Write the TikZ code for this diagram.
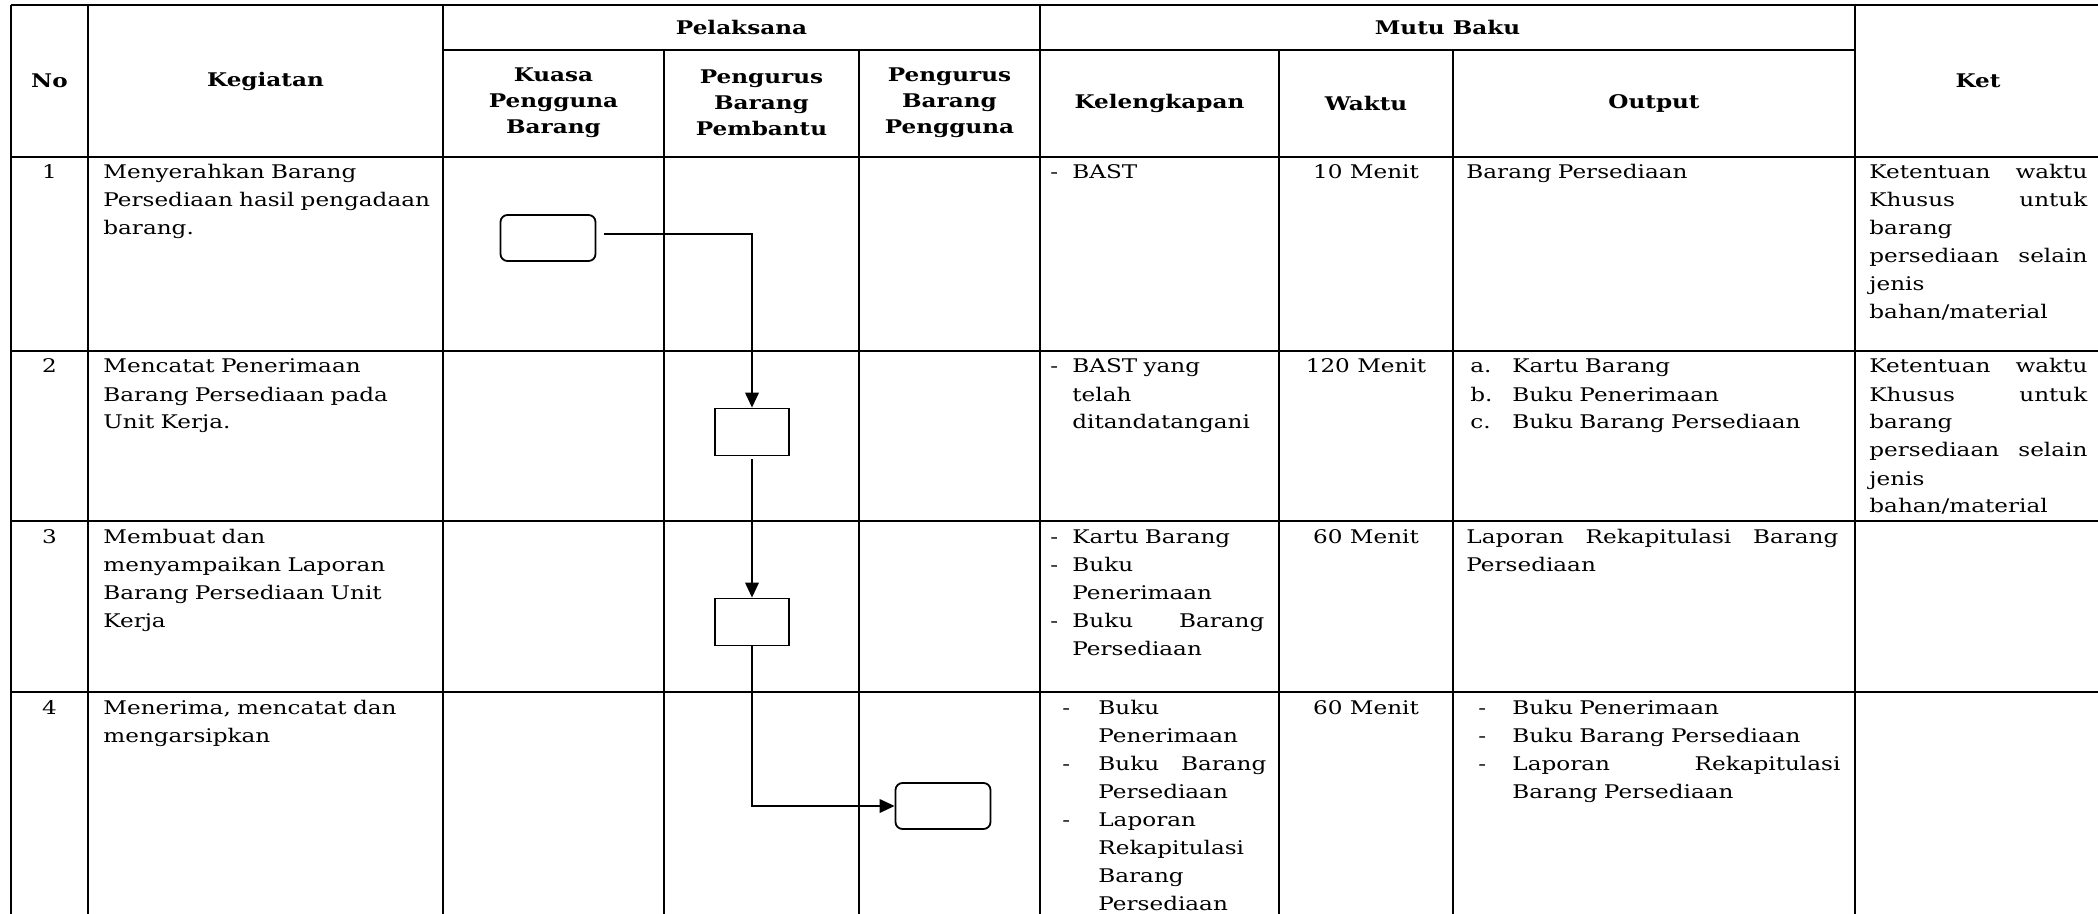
\documentclass[tikz,border=0pt]{standalone}
\usepackage{fontspec}
\setmainfont{DejaVu Serif}[FakeStretch=1.23]
\usetikzlibrary{arrows.meta,positioning}
\setlength{\parindent}{0pt}
\newcommand{\leadmark}[2]{\makebox[#1][l]{#2}}

\begin{document}
\begin{tikzpicture}[
    x=0.5pt, y=-0.5pt,
    >={Triangle[length=7.5pt,width=6.8pt]},
    body/.style={inner sep=0pt, font=\fontsize{9.4}{14}\selectfont},
    cell/.style={body, anchor=north west, align=left},
    mid/.style={body, anchor=north, align=center},
    head/.style={inner sep=0pt, align=center, font=\fontsize{9.4}{13}\selectfont\bfseries},
    vline/.style={line width=0.75pt},
    hline/.style={line width=1.1pt},
    term/.style={draw, line width=0.9pt, rounded corners=3.5pt,
                 minimum width=47.5pt, minimum height=23pt},
    proc/.style={draw, line width=0.9pt,
                 minimum width=37pt, minimum height=23.5pt},
    flow/.style={->, line width=0.85pt}
  ]

  \path[use as bounding box, fill=white] (0,0) rectangle (2098,914);

  %% Table grid
  \draw[hline] (11,5)    -- (2098,5);
  \draw[hline] (443,50)  -- (1855,50);
  \draw[hline] (11,157)  -- (2098,157);
  \draw[hline] (11,351)  -- (2098,351);
  \draw[hline] (11,521)  -- (2098,521);
  \draw[hline] (11,692)  -- (2098,692);
  \draw[vline] (11,5)    -- (11,914);
  \draw[vline] (88,5)    -- (88,914);
  \draw[vline] (443,5)   -- (443,914);
  \draw[vline] (664,50)  -- (664,914);
  \draw[vline] (859,50)  -- (859,914);
  \draw[vline] (1040,5)  -- (1040,914);
  \draw[vline] (1279,50) -- (1279,914);
  \draw[vline] (1453,50) -- (1453,914);
  \draw[vline] (1855,5)  -- (1855,914);

  %% Header
  \node[head] (no)   at (49.5,81)   {No};
  \node[head] (keg)  at (265.5,81)  {Kegiatan};
  \node[head] (pel)  at (741.5,27)  {Pelaksana};
  \node[head] (mutu) at (1447.5,27) {Mutu Baku};
  \node[head] (ket)  at (1978,81)   {Ket};
  \node[head] (kpb)  at (553.5,103) {Kuasa\\Pengguna\\Barang};
  \node[head] (pbp)  at (761.5,103) {Pengurus\\Barang\\Pembantu};
  \node[head] (pbg)  at (949.5,103) {Pengurus\\Barang\\Pengguna};
  \node[head] (kel)  at (1159.5,103) {Kelengkapan};
  \node[head] (wkt)  at (1366,103)  {Waktu};
  \node[head] (out)  at (1654,103)  {Output};

  %% Row 1
  \node[mid] (n1) at (49.5,159) {\strut 1};
  \node[cell, text width=168pt] (keg1) at (103,159)
       {\strut Menyerahkan Barang\\Persediaan hasil pengadaan\\barang.};
  \node[cell, text width=107pt] (kel1) at (1050,159) {\strut\leadmark{11pt}{-}BAST};
  \node[mid] (wkt1) at (1366,159) {\strut 10 Menit};
  \node[cell, text width=186pt] (out1) at (1466,159) {\strut Barang Persediaan};
  \node[cell, text width=109pt] (ket1) at (1869,159)
       {\strut Ketentuan\hfill waktu\\Khusus\hfill untuk\\barang\\persediaan\hfill selain\\jenis\\bahan/material};

  %% Row 2
  \node[mid] (n2) at (49.5,353) {\strut 2};
  \node[cell, text width=168pt] (keg2) at (103,353)
       {\strut Mencatat Penerimaan\\Barang Persediaan pada\\Unit Kerja.};
  \node[cell, text width=107pt] (kel2) at (1050,353)
       {\strut\leadmark{11pt}{-}BAST yang\\\hspace*{11pt}telah\\\hspace*{11pt}ditandatangani};
  \node[mid] (wkt2) at (1366,353) {\strut 120 Menit};
  \node[cell, text width=186pt] (out2) at (1470,353)
       {\strut\leadmark{21pt}{a.}Kartu Barang\\\leadmark{21pt}{b.}Buku Penerimaan\\\leadmark{21pt}{c.}Buku Barang Persediaan};
  \node[cell, text width=109pt] (ket2) at (1869,353)
       {\strut Ketentuan\hfill waktu\\Khusus\hfill untuk\\barang\\persediaan\hfill selain\\jenis\\bahan/material};

  %% Row 3
  \node[mid] (n3) at (49.5,523) {\strut 3};
  \node[cell, text width=168pt] (keg3) at (103,523)
       {\strut Membuat dan\\menyampaikan Laporan\\Barang Persediaan Unit\\Kerja};
  \node[cell, text width=107pt] (kel3) at (1050,523)
       {\strut\leadmark{11pt}{-}Kartu Barang\\\leadmark{11pt}{-}Buku\\\hspace*{11pt}Penerimaan\\\leadmark{11pt}{-}Buku\hfill Barang\\\hspace*{11pt}Persediaan};
  \node[mid] (wkt3) at (1366,523) {\strut 60 Menit};
  \node[cell, text width=186pt] (out3) at (1466,523)
       {\strut Laporan\hfill Rekapitulasi\hfill Barang\\Persediaan};

  %% Row 4
  \node[mid] (n4) at (49.5,694) {\strut 4};
  \node[cell, text width=168pt] (keg4) at (103,694)
       {\strut Menerima, mencatat dan\\mengarsipkan};
  \node[cell, text width=102pt] (kel4) at (1062,694)
       {\strut\leadmark{18pt}{-}Buku\\\hspace*{18pt}Penerimaan\\\leadmark{18pt}{-}Buku\hfill Barang\\\hspace*{18pt}Persediaan\\\leadmark{18pt}{-}Laporan\\\hspace*{18pt}Rekapitulasi\\\hspace*{18pt}Barang\\\hspace*{18pt}Persediaan};
  \node[mid] (wkt4) at (1366,694) {\strut 60 Menit};
  \node[cell, text width=181pt] (out4) at (1478,694)
       {\strut\leadmark{17pt}{-}Buku Penerimaan\\\leadmark{17pt}{-}Buku Barang Persediaan\\\leadmark{17pt}{-}Laporan\hfill Rekapitulasi\\\hspace*{17pt}Barang Persediaan};

  %% Flow
  \node[term] (start) at (548,238) {};
  \node[proc] (rec)   at (752,432) {};
  \node[proc, below=70.6pt of rec] (rep) {};
  \node[term] (arsip) at (943,806) {};
  \draw[flow, shorten <=4pt] ([yshift=2pt]start.east) -| (rec.north);
  \draw[flow, shorten <=1.5pt] (rec) -- (rep);
  \draw[flow] (rep.south) |- (arsip.west);

\end{tikzpicture}
\end{document}
